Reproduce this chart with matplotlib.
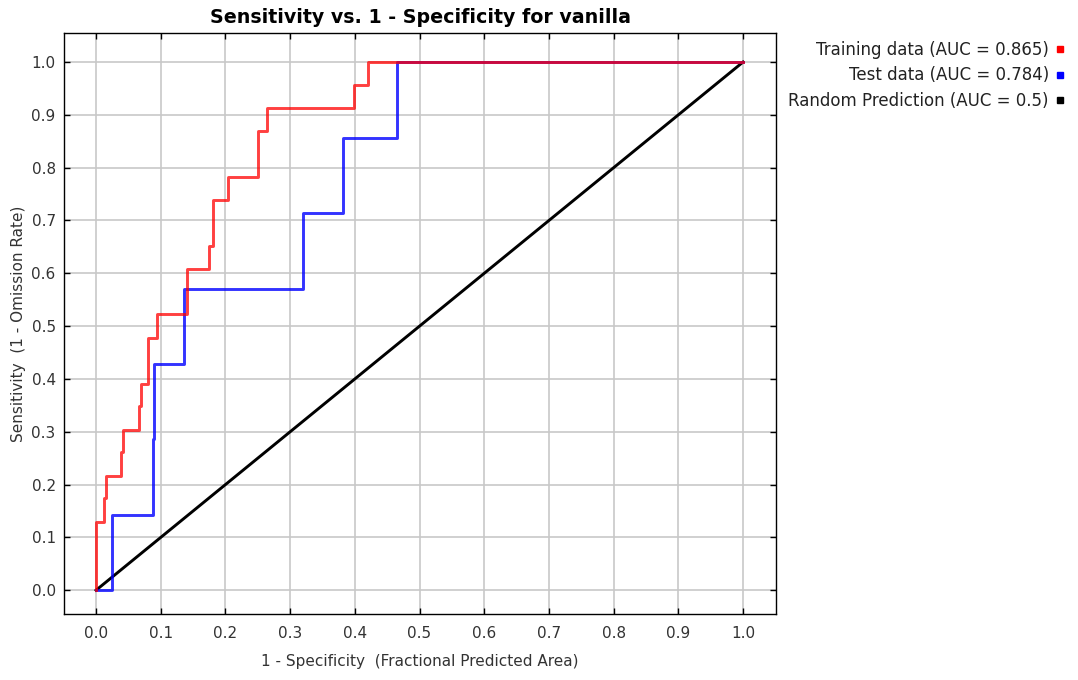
import matplotlib
matplotlib.use("Agg")
import matplotlib.pyplot as plt
from matplotlib.lines import Line2D


# ROC corner points (steps-post: tpr holds from each fpr on)
train_fpr = [0.0, 0.0, 0.0124, 0.0155, 0.038, 0.041, 0.067, 0.069, 0.081, 0.094,
             0.140, 0.174, 0.181, 0.2035, 0.251, 0.264, 0.398, 0.421, 1.0]
train_tpr = [0.0, 0.130, 0.174, 0.217, 0.261, 0.304, 0.348, 0.391, 0.478, 0.522,
             0.609, 0.652, 0.739, 0.783, 0.870, 0.913, 0.957, 1.0, 1.0]

test_fpr = [0.0, 0.025, 0.0876, 0.0896, 0.136, 0.3205, 0.382, 0.4647, 1.0]
test_tpr = [0.0, 0.143, 0.286, 0.429, 0.571, 0.714, 0.857, 1.0, 1.0]

random_x = [0.0, 1.0]
random_y = [0.0, 1.0]

labels = ["Training data (AUC = 0.865)", "Test data (AUC = 0.784)", "Random Prediction (AUC = 0.5)"]
colors = ["#ff0000", "#0000ff", "#000000"]
ticks = [0.0, 0.1, 0.2, 0.3, 0.4, 0.5, 0.6, 0.7, 0.8, 0.9, 1.0]


fig = plt.figure(figsize=(10.78, 6.80), dpi=100)
ax = fig.add_axes([0.0594, 0.0971, 0.6605, 0.8544])

ax.plot(random_x, random_y, color=colors[2], lw=2.1, zorder=3)
ax.plot(test_fpr, test_tpr, color=colors[1], lw=2.1, alpha=0.8, drawstyle="steps-post", zorder=4)
ax.plot(train_fpr, train_tpr, color=colors[0], lw=2.1, alpha=0.75, drawstyle="steps-post", zorder=5)

ax.set_xlim(-0.0495, 1.051)
ax.set_ylim(-0.045, 1.055)
ax.set_xticks(ticks)
ax.set_yticks(ticks)
ax.set_xticklabels(["%.1f" % t for t in ticks])
ax.set_yticklabels(["%.1f" % t for t in ticks])
ax.grid(True, color="#c8c8c8", lw=1.2)
ax.set_axisbelow(True)
ax.tick_params(direction="in", length=4.5, width=1, top=True, right=True,
               labelsize=11, colors="black", labelcolor="#333333")
ax.tick_params(axis="x", pad=9)
ax.tick_params(axis="y", pad=6)
for s in ax.spines.values():
    s.set_linewidth(1.0)

ax.set_title("Sensitivity vs. 1 - Specificity for vanilla", fontsize=13.7, fontweight="bold", pad=7)
ax.set_xlabel("1 - Specificity  (Fractional Predicted Area)", fontsize=11, labelpad=9, color="#333333")
ax.set_ylabel("Sensitivity  (1 - Omission Rate)", fontsize=11, labelpad=4, color="#333333")

handles = [Line2D([], [], marker="s", ls="none", color=c, markersize=5) for c in colors]
fig.legend(handles, labels, loc="upper right", bbox_to_anchor=(1.0, 0.957),
           markerfirst=False, frameon=False, fontsize=12, handlelength=0.8,
           handletextpad=0.25, labelspacing=0.45, borderaxespad=0.3,
           labelcolor="#222222")

fig.savefig("out.png", dpi=100)
